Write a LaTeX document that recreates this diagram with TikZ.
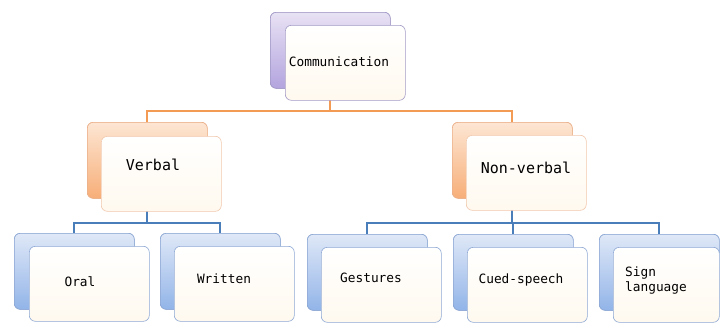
\documentclass[tikz,border=0pt]{standalone}
\usepackage{fontspec}
\setmonofont{DejaVu Sans Mono}
\usetikzlibrary{calc}
\definecolor{purT}{HTML}{E8E2F4}
\definecolor{purB}{HTML}{B3A4DE}
\definecolor{purD}{HTML}{A39AC6}
\definecolor{orT}{HTML}{FDE6D3}
\definecolor{orB}{HTML}{F7AE78}
\definecolor{orD}{HTML}{EBB08A}
\definecolor{blT}{HTML}{DFE8F7}
\definecolor{blB}{HTML}{92B4E8}
\definecolor{blD}{HTML}{8EA8D4}
\definecolor{frontB}{HTML}{FFF9EF}
\definecolor{orLine}{HTML}{F39A55}
\definecolor{blLine}{HTML}{4A7EBB}
\tikzset{
  backbox/.style={draw, rounded corners=6pt, line width=0.6pt, inner sep=0pt, minimum width=120pt, minimum height=76pt, anchor=north west},
  frontbox/.style={draw, rounded corners=6pt, line width=0.6pt, inner sep=0pt, minimum width=120pt, minimum height=75pt, anchor=north west, top color=white, bottom color=frontB},
  purback/.style={backbox, draw=purD, top color=purT, bottom color=purB},
  orback/.style={backbox, draw=orD, top color=orT, bottom color=orB},
  blback/.style={backbox, draw=blD, top color=blT, bottom color=blB},
  purfront/.style={frontbox, draw=purD},
  orfront/.style={frontbox, draw=orD!70},
  blfront/.style={frontbox, draw=blD},
  lbl/.style={font=\ttfamily\fontsize{12.8}{15}\selectfont, text=black, inner sep=0pt, align=left},
  lblbig/.style={font=\ttfamily\fontsize{15}{18}\selectfont, text=black, inner sep=0pt},
  orconn/.style={draw=orLine, line width=2.2pt},
  blconn/.style={draw=blLine, line width=2.2pt}
}
\begin{document}
\begin{tikzpicture}[x=1pt,y=-1pt]
\useasboundingbox (0,0) rectangle (720,322);
% back boxes
\node[purback] (commB) at (270,12) {};
\node[orback] (verbB) at (87,122) {};
\node[orback] (nonvB) at (452,122) {};
\node[blback] (oralB) at (14,233) {};
\node[blback] (writB) at (160,233) {};
\node[blback] (gestB) at (307,234) {};
\node[blback] (cuedB) at (453,234) {};
\node[blback] (signB) at (599,234) {};
% connectors
\draw[orconn] (commB.south) -- ++(0,22) -| (verbB.north);
\draw[orconn] (commB.south) -- ++(0,22) -| (nonvB.north);
\draw[blconn] (verbB.south) -- ++(0,24) -| (oralB.north);
\draw[blconn] (verbB.south) -- ++(0,24) -| (writB.north);
\draw[blconn] (nonvB.south) -- ++(0,24) -| (gestB.north);
\draw[blconn] (nonvB.south) -- ++(0,24) -| (cuedB.north);
\draw[blconn] (nonvB.south) -- ++(0,24) -| (signB.north);
% redraw back boxes over connectors
\node[purback] at (270,12) {};
\node[orback] at (87,122) {};
\node[orback] at (452,122) {};
\node[blback] at (14,233) {};
\node[blback] at (160,233) {};
\node[blback] at (307,234) {};
\node[blback] at (453,234) {};
\node[blback] at (599,234) {};
% front boxes
\node[purfront] (commF) at (285,25) {};
\node[orfront] (verbF) at (101,136) {};
\node[orfront] (nonvF) at (466,135) {};
\node[blfront] (oralF) at (29,246) {};
\node[blfront] (writF) at (174,246) {};
\node[blfront] (gestF) at (321,247) {};
\node[blfront] (cuedF) at (467,247) {};
\node[blfront, minimum width=106pt] (signF) at (613,247) {};
% labels
\node[lbl] (commT) at (339,62) {Communication};
\node[lblbig] (verbT) at (153,165) {Verbal};
\node[lblbig] (nonvT) at (526,168) {Non-verbal};
\node[lbl] (oralT) at (80,282) {Oral};
\node[lbl] (writT) at (224,279) {Written};
\node[lbl] (gestT) at (371,278) {Gestures};
\node[lbl] (cuedT) at (521,280) {Cued-speech};
\node[lbl, anchor=west] (signT) at (625,281) {Sign\\language};
\end{tikzpicture}
\end{document}
